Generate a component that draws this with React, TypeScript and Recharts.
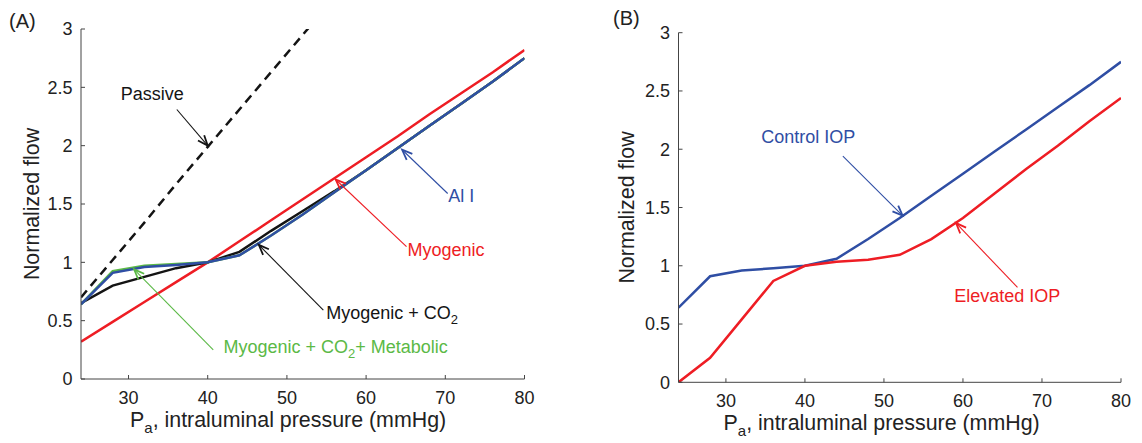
import React from "react";
import { LineChart, Line, XAxis, YAxis, ReferenceLine, ReferenceDot } from "recharts";

const FONT = '"Liberation Sans", Arial, Helvetica, sans-serif';
const RED = "#ee1d24";
const BLUE = "#2f4ea4";
const GREEN = "#5bb946";
const BLACK = "#141414";
const AXIS = "#444";

// pressure grid (mmHg)
const pressure = [24, 28, 32, 36, 40, 44, 48, 52, 56, 60, 64, 68, 72, 76, 80];

// panel A
const passive = [0.7, 1.02, 1.34, 1.67, 1.99, 2.31, 2.63, 2.95, 3.27, null, null, null, null, null, null];
const myogenic = [0.32, 0.49, 0.66, 0.83, 1.0, 1.18, 1.36, 1.54, 1.72, 1.9, 2.08, 2.27, 2.45, 2.63, 2.82];
const myoCO2 = [0.65, 0.8, 0.875, 0.95, 1.0, 1.09, 1.27, 1.44, 1.61, 1.79, 1.98, 2.17, 2.36, 2.55, 2.75];
const myoCO2Metabolic = [0.64, 0.925, 0.97, 0.985, 1.0, 1.06, 1.23, 1.41, 1.6, 1.79, 1.98, 2.17, 2.36, 2.55, 2.75];
const allMechanisms = [0.64, 0.91, 0.96, 0.978, 1.0, 1.06, 1.23, 1.41, 1.6, 1.79, 1.98, 2.17, 2.36, 2.55, 2.75];

// panel B
const controlIOP = allMechanisms;
const elevatedIOP = [0, 0.21, 0.54, 0.87, 1.0, 1.034, 1.051, 1.094, 1.229, 1.41, 1.62, 1.83, 2.03, 2.24, 2.44];

const xTicks = [30, 40, 50, 60, 70, 80];
const yTicks = [0, 0.5, 1, 1.5, 2, 2.5, 3];

const dataA = pressure.map((x, i) => ({
  x,
  passive: passive[i],
  myogenic: myogenic[i],
  myoCO2: myoCO2[i],
  metabolic: myoCO2Metabolic[i],
  all: allMechanisms[i],
}));

const dataB = pressure.map((x, i) => ({ x, control: controlIOP[i], elevated: elevatedIOP[i] }));

type Part = { t: string; sub?: boolean };
type Note = {
  parts: Part[];
  color: string;
  at: [number, number];
  anchor: "start" | "middle";
  from: [number, number];
  to: [number, number];
};

const notesA: Note[] = [
  { parts: [{ t: "Passive" }], color: BLACK, at: [33.0, 2.39], anchor: "middle", from: [36.1, 2.31], to: [40.0, 2.0] },
  { parts: [{ t: "Al I" }], color: BLUE, at: [72.0, 1.52], anchor: "middle", from: [70.3, 1.59], to: [64.55, 1.965] },
  { parts: [{ t: "Myogenic" }], color: RED, at: [70.1, 1.054], anchor: "middle", from: [65.1, 1.134], to: [56.15, 1.71] },
  {
    parts: [{ t: "Myogenic + CO" }, { t: "2", sub: true }],
    color: BLACK, at: [54.97, 0.511], anchor: "start", from: [54.6, 0.59], to: [46.45, 1.15],
  },
  {
    parts: [{ t: "Myogenic + CO" }, { t: "2", sub: true }, { t: "+ Metabolic" }],
    color: GREEN, at: [41.99, 0.226], anchor: "start", from: [40.7, 0.25], to: [30.7, 0.94],
  },
];

const notesB: Note[] = [
  { parts: [{ t: "Control IOP" }], color: BLUE, at: [34.48, 2.057], anchor: "start", from: [44.8, 1.94], to: [52.36, 1.43] },
  { parts: [{ t: "Elevated IOP" }], color: RED, at: [58.9, 0.691], anchor: "start", from: [66.9, 0.814], to: [59.13, 1.366] },
];

const renderParts = (parts: Part[]) => {
  const out: React.ReactNode[] = [];
  let shifted = false;
  parts.forEach((p, i) => {
    if (p.sub) {
      out.push(<tspan key={i} dy={5} fontSize={13}>{p.t}</tspan>);
      shifted = true;
    } else {
      out.push(<tspan key={i} dy={shifted ? -5 : 0}>{p.t}</tspan>);
      shifted = false;
    }
  });
  return out;
};

const arrowShape = (color: string) => (p: any) => {
  const { x1, y1, x2, y2 } = p;
  const ang = Math.atan2(y2 - y1, x2 - x1);
  const L = 11;
  const a = 0.38;
  const h1 = [x2 - L * Math.cos(ang - a), y2 - L * Math.sin(ang - a)];
  const h2 = [x2 - L * Math.cos(ang + a), y2 - L * Math.sin(ang + a)];
  return (
    <g>
      <line x1={x1} y1={y1} x2={x2} y2={y2} stroke={color} strokeWidth={1.1} />
      <polyline
        points={`${h1[0]},${h1[1]} ${x2},${y2} ${h2[0]},${h2[1]}`}
        fill="none"
        stroke={color}
        strokeWidth={1.8}
      />
    </g>
  );
};

const renderNotes = (notes: Note[]) =>
  notes.flatMap((n, i) => [
    <ReferenceLine
      key={`a${i}`}
      segment={[{ x: n.from[0], y: n.from[1] }, { x: n.to[0], y: n.to[1] }]}
      shape={arrowShape(n.color)}
    />,
    <ReferenceDot
      key={`t${i}`}
      x={n.at[0]}
      y={n.at[1]}
      r={0}
      shape={(p: any) => (
        <text x={p.cx} y={p.cy} dy="0.36em" textAnchor={n.anchor} fill={n.color} fontSize={18} fontFamily={FONT}>
          {renderParts(n.parts)}
        </text>
      )}
    />,
  ]);

const xLabel = (offset: number) => (p: any) => {
  const vb = p.viewBox;
  return (
    <text x={vb.x + offset} y={vb.y + 48} fontSize={21.4} fill="#222" fontFamily={FONT}>
      <tspan>P</tspan>
      <tspan dy={6} fontSize={15}>a</tspan>
      <tspan dy={-6}>, intraluminal pressure (mmHg)</tspan>
    </text>
  );
};

const yLabel = (cx: number) => (p: any) => {
  const vb = p.viewBox;
  const cy = vb.y + vb.height / 2;
  return (
    <text
      x={cx}
      y={cy}
      dy="0.36em"
      textAnchor="middle"
      transform={`rotate(-90 ${cx} ${cy})`}
      fontSize={21.4}
      fill="#222"
      fontFamily={FONT}
    >
      Normalized flow
    </text>
  );
};

const tickStyle = { fontSize: 18, fill: "#222", fontFamily: FONT };

const Axes = (labelOffset: number, yLabelX: number) => [
  <XAxis
    key="xb"
    dataKey="x"
    type="number"
    domain={[24, 80]}
    allowDataOverflow
    ticks={xTicks}
    height={40}
    tickSize={-4}
    tickMargin={16}
    tick={tickStyle}
    stroke={AXIS}
    label={xLabel(labelOffset)}
  />,
  <XAxis
    key="xt"
    xAxisId="top"
    orientation="top"
    dataKey="x"
    type="number"
    domain={[24, 80]}
    allowDataOverflow
    ticks={xTicks}
    height={0}
    tickSize={-4}
    tick={false}
    stroke={AXIS}
  />,
  <YAxis
    key="yl"
    type="number"
    domain={[0, 3]}
    allowDataOverflow
    ticks={yTicks}
    width={50}
    tickSize={-4}
    tickMargin={12.5}
    tick={tickStyle}
    stroke={AXIS}
    label={yLabel(yLabelX)}
  />,
  <YAxis
    key="yr"
    yAxisId="right"
    orientation="right"
    type="number"
    domain={[0, 3]}
    allowDataOverflow
    ticks={yTicks}
    width={0}
    tickSize={-4}
    tick={false}
    stroke={AXIS}
  />,
];

const PanelA = () => (
  <LineChart width={560} height={443} data={dataA} margin={{ top: 29, right: 35.5, bottom: 24, left: 31 }}>
    {Axes(49, 31)}
    <Line dataKey="passive" stroke={BLACK} strokeWidth={2.5} strokeDasharray="9 6" dot={false} isAnimationActive={false} />
    <Line dataKey="myogenic" stroke={RED} strokeWidth={2.5} dot={false} isAnimationActive={false} />
    <Line dataKey="myoCO2" stroke={BLACK} strokeWidth={2.5} dot={false} isAnimationActive={false} />
    <Line dataKey="metabolic" stroke={GREEN} strokeWidth={2.5} dot={false} isAnimationActive={false} />
    <Line dataKey="all" stroke={BLUE} strokeWidth={2.5} dot={false} isAnimationActive={false} />
    {renderNotes(notesA)}
  </LineChart>
);

const PanelB = () => (
  <LineChart width={552} height={443} data={dataB} margin={{ top: 32.7, right: 21, bottom: 20.7, left: 38.5 }}>
    {Axes(45, 36.5)}
    <Line dataKey="control" stroke={BLUE} strokeWidth={2.5} dot={false} isAnimationActive={false} />
    <Line dataKey="elevated" stroke={RED} strokeWidth={2.5} dot={false} isAnimationActive={false} />
    {renderNotes(notesB)}
  </LineChart>
);

export default function App() {
  return (
    <div style={{ position: "absolute", left: 0, top: 0, width: 1142, height: 443, background: "#fff" }}>
      <div style={{ position: "absolute", left: 0, top: 0 }}>
        <PanelA />
      </div>
      <div style={{ position: "absolute", left: 590, top: 0 }}>
        <PanelB />
      </div>
      <svg width={1142} height={443} style={{ position: "absolute", left: 0, top: 0, pointerEvents: "none" }}>
        <text x={9} y={28} fontSize={20} fill="#222" fontFamily={FONT}>(A)</text>
        <text x={613} y={25} fontSize={20} fill="#222" fontFamily={FONT}>(B)</text>
      </svg>
    </div>
  );
}
